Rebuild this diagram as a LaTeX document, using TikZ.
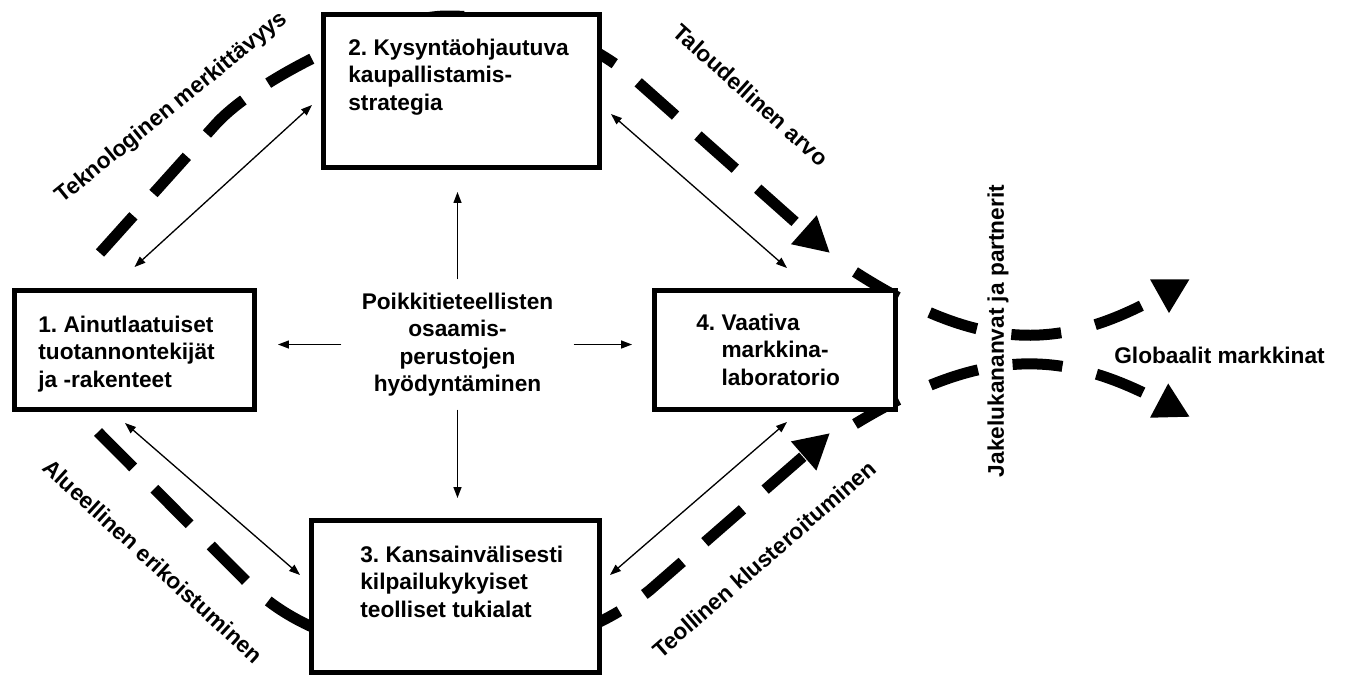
\documentclass[tikz,border=0pt]{standalone}
\usepackage{fontspec}
\setmainfont{Liberation Sans}
\usetikzlibrary{arrows.meta,positioning}
\begin{document}
\begin{tikzpicture}[x=0.02cm,y=-0.02cm]
\tikzset{laatikko/.style={draw, line width=0.1cm, fill=white, inner sep=0pt}}
\tikzset{teksti/.style={font=\bfseries\fontsize{12.9}{15.6}\selectfont\frenchspacing, align=left, inner sep=0pt}}
\tikzset{nuoli/.style={line width=0.75pt, -{Triangle[length=0.22cm,width=0.16cm]}}}
\tikzset{kaksinuoli/.style={line width=0.75pt, {Triangle[length=0.22cm,width=0.16cm]}-{Triangle[length=0.22cm,width=0.16cm]}}}
\tikzset{katko/.style={line width=0.22cm, dash pattern=on 1cm off 0.6cm}}
\tikzset{katkonuoli/.style={katko, -{Triangle[length=0.7cm,width=0.72cm]}}}
\tikzset{viuhka/.style={katkonuoli, dash pattern=on 1cm off 0.7cm}}
\useasboundingbox (0,0) rectangle (1346,677);
% paksut katkoviivat (laatikoiden alle)
\coordinate (A0) at (100,253);
\coordinate (A1) at (830,253);
\coordinate (A2) at (98,432);
\coordinate (A3) at (830,433);
\draw[katkonuoli] (A0) -- (215,125) .. controls (255,80) and (380,18) .. (445,16) .. controls (520,16) and (580,35) .. (630,75) -- (A1);
\draw[katkonuoli] (A2) -- (250,585) .. controls (300,635) and (380,655) .. (455,655) .. controls (530,655) and (600,630) .. (650,590) -- (A3);
\coordinate (F0) at (855,272);
\coordinate (F1) at (1190,279);
\coordinate (F2) at (855,424);
\coordinate (F3) at (1190,417);
\draw[viuhka] (F0) .. controls (980,352) and (1060,352) .. (F1);
\draw[viuhka] (F2) .. controls (980,348) and (1060,348) .. (F3);
% laatikot
\node[laatikko, minimum width=4.8cm, minimum height=2.38cm] (B1) at (134.5,350) {};
\node[laatikko, minimum width=5.52cm, minimum height=3.06cm] (B2) at (461.5,91) {};
\node[laatikko, minimum width=5.76cm, minimum height=3.04cm] (B3) at (455.5,596.5) {};
\node[laatikko, minimum width=4.82cm, minimum height=2.38cm] (B4) at (775,350) {};
\node[teksti, below right=0.55cm and 0.52cm of B1.north west] (T1) {1. Ainutlaatuiset\\tuotannontekijät\\ja -rakenteet};
\node[teksti, below right=0.53cm and 0.54cm of B2.north west] (T2) {2. Kysyntäohjautuva\\kaupallistamis-\\strategia};
\node[teksti, below right=0.55cm and 1.02cm of B3.north west] (T3) {3. Kansainvälisesti\\kilpailukykyiset\\teolliset tukialat};
\node[teksti, below right=0.51cm and 0.88cm of B4.north west] (T4) {4.\ Vaativa\\\phantom{4.\ }markkina-\\\phantom{4.\ }laboratorio};
% keskus
\node[teksti, align=center, inner xsep=0.4cm, inner ysep=0.26cm] (C) at (457.5,344.5) {Poikkitieteellisten\\osaamis-\\perustojen\\hyödyntäminen};
\draw[nuoli, shorten >=0.44cm] (C.north) -- (C.north |- B2.south);
\draw[nuoli, shorten >=0.4cm] (C.south) -- (C.south |- B3.north);
\draw[nuoli, shorten >=0.42cm] (C.west) -- (C.west -| B1.east);
\draw[nuoli, shorten >=0.4cm] (C.east) -- (C.east -| B4.west);
\draw[kaksinuoli] ([yshift=0.42cm]B1.north) -- ([xshift=-0.18cm,yshift=-0.28cm]B2.west);
\draw[kaksinuoli] ([xshift=0.18cm,yshift=-0.46cm]B2.east) -- ([xshift=0.24cm,yshift=0.4cm]B4.north);
\draw[kaksinuoli] ([xshift=-0.19cm,yshift=-0.22cm]B1.south) -- ([xshift=-0.18cm,yshift=0.43cm]B3.west);
\draw[kaksinuoli] ([xshift=0.16cm,yshift=0.43cm]B3.east) -- ([xshift=0.24cm,yshift=-0.2cm]B4.south);
% nimiot
\node[teksti, rotate=39] (L1) at (172,108) {Teknologinen merkittävyys};
\node[teksti, rotate=-42] (L2) at (751,95) {Taloudellinen arvo};
\node[teksti, rotate=-42.5] (L3) at (153,561) {Alueellinen erikoistuminen};
\node[teksti, rotate=41] (L4) at (764,559) {Teollinen klusteroituminen};
\node[teksti, rotate=90] (L5) at (998,331) {Jakelukananvat ja partnerit};
\node[teksti] (L6) at (1219.5,355) {Globaalit markkinat};
\end{tikzpicture}
\end{document}
